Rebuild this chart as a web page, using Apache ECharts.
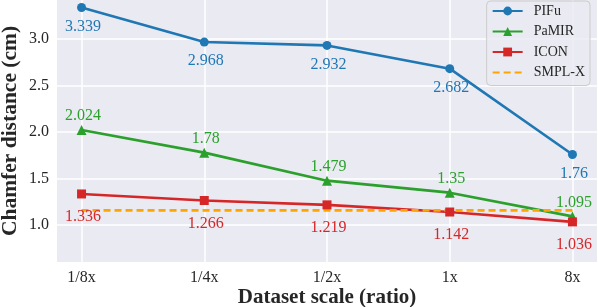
<!DOCTYPE html>
<html><head><meta charset="utf-8">
<script src="https://cdn.jsdelivr.net/npm/echarts@6/dist/echarts.min.js"></script>
<style>html,body{margin:0;padding:0;background:#fff}#c{width:598px;height:307px}</style>
</head><body><div id="c"></div>
<script>
const categories = ['1/8x', '1/4x', '1/2x', '1x', '8x'];
const pifu  = [3.339, 2.968, 2.932, 2.682, 1.76];
const pamir = [2.024, 1.78, 1.479, 1.35, 1.095];
const icon  = [1.336, 1.266, 1.219, 1.142, 1.036];
const smplx = [1.16, 1.16, 1.16, 1.16, 1.16];

const FONT = 'Liberation Serif';
const pts = arr => arr.map((v, i) => [i, v]);
const lbl = (pos, dist, color) => ({
  show: true, position: pos, distance: dist, color: color,
  fontFamily: FONT, fontSize: 16, offset: [1.5, 0],
  formatter: p => String(p.value[1])
});

const chart = echarts.init(document.getElementById('c'), null, {renderer: 'canvas'});
chart.setOption({
  backgroundColor: '#ffffff',
  animation: false,
  grid: {left: 57, right: 1, top: 0, bottom: 45, outerBoundsMode: 'none', containLabel: false,
         show: true, backgroundColor: '#eaeaf2', borderWidth: 0},
  legend: {
    orient: 'vertical', right: 8, top: 1,
    padding: [3, 5, 6, 5],
    itemWidth: 30, itemHeight: 11, itemGap: 6.5,
    backgroundColor: 'rgba(234,234,242,0.8)', borderColor: '#cccccc', borderWidth: 1, borderRadius: 4,
    textStyle: {fontFamily: FONT, fontSize: 14, color: '#262626', padding: [0, 0, 0, 6]},
    data: ['PIFu', 'PaMIR', 'ICON', {name: 'SMPL-X', itemStyle: {opacity: 0}}]
  },
  xAxis: {
    type: 'value', min: -0.2, max: 4.2,
    name: 'Dataset scale (ratio)', nameLocation: 'middle', nameGap: 25, nameMoveOverlap: false,
    nameTextStyle: {fontFamily: FONT, fontSize: 21, fontWeight: 'bold', color: '#262626'},
    axisLine: {show: false}, axisTick: {show: false},
    axisLabel: {
      margin: 8, fontFamily: FONT, fontSize: 16, color: '#262626',
      showMinLabel: false, showMaxLabel: false,
      formatter: v => (Number.isInteger(v) && categories[v] !== undefined) ? categories[v] : ''
    },
    splitLine: {show: true, showMinLine: false, showMaxLine: false, lineStyle: {color: '#ffffff', width: 1.5}}
  },
  yAxis: {
    type: 'value', min: 0.605, max: 3.42, splitNumber: 5,
    name: 'Chamfer distance (cm)', nameLocation: 'middle', nameGap: 36, nameMoveOverlap: false,
    nameTextStyle: {fontFamily: FONT, fontSize: 21.5, fontWeight: 'bold', color: '#262626'},
    axisLine: {show: false}, axisTick: {show: false},
    axisLabel: {
      margin: 8, fontFamily: FONT, fontSize: 16, color: '#262626',
      showMinLabel: false, showMaxLabel: false,
      formatter: v => v.toFixed(1)
    },
    splitLine: {show: true, showMinLine: false, showMaxLine: false, lineStyle: {color: '#ffffff', width: 1.5}}
  },
  series: [
    {name: 'PIFu', type: 'line', data: pts(pifu), symbol: 'circle', symbolSize: 9,
     lineStyle: {color: '#1f77b4', width: 2.6}, itemStyle: {color: '#1f77b4'},
     label: lbl('bottom', 6.5, '#1f77b4')},
    {name: 'PaMIR', type: 'line', data: pts(pamir), symbol: 'triangle', symbolSize: 10,
     lineStyle: {color: '#2ca02c', width: 2.6}, itemStyle: {color: '#2ca02c'},
     label: lbl('top', 1, '#2ca02c')},
    {name: 'ICON', type: 'line', data: pts(icon), symbol: 'rect', symbolSize: 9,
     lineStyle: {color: '#d62728', width: 2.6}, itemStyle: {color: '#d62728'},
     label: lbl('bottom', 10.5, '#d62728')},
    {name: 'SMPL-X', type: 'line', data: pts(smplx), symbol: 'none',
     lineStyle: {color: '#ffa500', width: 2.6, type: [7, 4]}, itemStyle: {color: '#ffa500'}}
  ]
});
</script></body></html>
